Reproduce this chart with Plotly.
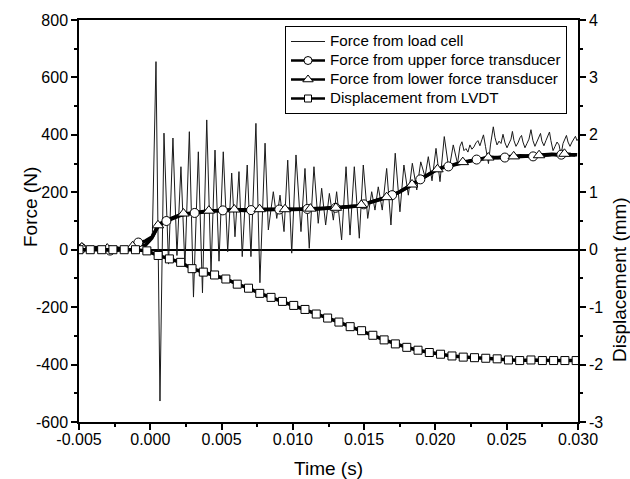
import plotly.graph_objects as go

# ---------------- data (time in ms, force in N, displacement in mm) ----------------
load_time_ms = [
    -5.00, -4.72, -4.44, -4.16, -3.88, -3.60, -3.32, -3.04, -2.76, -2.48,
    -2.20, -1.91, -1.63, -1.35, -1.07, -0.79, -0.51, -0.23, -0.02, 0.15,
    0.40, 0.68, 0.96, 1.28, 1.59, 1.87, 2.15, 2.43, 2.74, 3.03,
    3.37, 3.66, 3.96, 4.26, 4.54, 4.82, 5.12, 5.43, 5.71, 5.94,
    6.22, 6.45, 6.80, 7.06, 7.41, 7.69, 8.05, 8.28, 8.63, 8.87,
    9.10, 9.38, 9.64, 9.92, 10.22, 10.57, 10.85, 11.15, 11.48, 11.78,
    12.02, 12.30, 12.56, 12.84, 13.07, 13.42, 13.73, 14.01, 14.31, 14.66,
    14.94, 15.25, 15.53, 15.76, 15.99, 16.27, 16.58, 16.88, 17.18, 17.51,
    17.79, 18.10, 18.38, 18.69, 18.97, 19.27, 19.50, 19.76, 20.04, 20.32,
    20.62, 20.95, 21.25, 21.55,
    21.72, 21.86, 22.00, 22.14, 22.28, 22.42, 22.56, 22.70, 22.84, 22.98,
    23.12, 23.27, 23.37, 23.51, 23.62, 23.72, 23.86, 23.97, 24.06, 24.18,
    24.32, 24.46, 24.60, 24.74, 24.88, 25.02, 25.16, 25.30, 25.40, 25.51,
    25.65, 25.79, 25.93, 26.04, 26.14, 26.28, 26.42, 26.56, 26.70, 26.84,
    26.98, 27.12, 27.26, 27.37, 27.47, 27.61, 27.75, 27.89, 28.00, 28.10,
    28.25, 28.39, 28.53, 28.67, 28.81, 28.95, 29.09, 29.19, 29.30, 29.44,
    29.58, 29.72, 29.82, 29.93, 30.00,
]
load_force_N = [
    2, 8, -2, 5, 0, 8, -4, 3, -8, 2,
    -6, 4, -3, 6, 18, 30, 22, 35, 28, 60,
    655, -527, 406, -50, 389, -20, 289, -60, 411, -165,
    341, -150, 452, -80, 347, -40, 341, -7, 267, 45,
    272, -24, 295, -24, 440, -115, 371, 69, 202, 109,
    190, 63, 312, -12, 330, 63, 283, 5, 289, 92,
    214, 86, 196, 103, 202, 34, 289, 51, 289, 40,
    295, 109, 202, 138, 219, 138, 283, 86, 336, 132,
    295, 190, 301, 208, 306, 254, 324, 240, 353, 237,
    394, 278, 365, 300,
    360, 376, 345, 352, 340, 365, 350, 358, 372, 380,
    362, 385, 400, 360, 330, 300, 365, 395, 428, 390,
    365, 378, 370, 402, 372, 355, 368, 385, 412, 380,
    360, 372, 390, 398, 375, 355, 370, 385, 418, 380,
    360, 378, 392, 405, 378, 362, 380, 395, 410, 380,
    345, 360, 375, 365, 330, 370, 385, 398, 375, 360,
    375, 388, 395, 380, 385,
]

upper_time_ms = [
    -4.80, -4.31, -3.81, -3.32, -2.82, -2.33, -1.83, -1.34, -0.84, -0.35,
    0.15, 0.64, 1.13, 1.63, 2.12, 2.62, 3.11, 3.61, 4.10, 4.60,
    5.09, 5.58, 6.08, 6.57, 7.07, 7.56, 8.06, 8.55, 9.05, 9.54,
    10.04, 10.53, 11.02, 11.52, 12.01, 12.51, 13.00, 13.50, 13.99, 14.49,
    14.98, 15.47, 15.97, 16.46, 16.96, 17.45, 17.95, 18.44, 18.94, 19.43,
    19.93, 20.42, 20.91, 21.41, 21.90, 22.40, 22.89, 23.39, 23.88, 24.38,
    24.87, 25.36, 25.86, 26.35, 26.85, 27.34, 27.84, 28.33, 28.83, 29.32,
    29.82,
]
upper_force_N = [
    5, 3, 8, 2, -3, 6, 0, 8, 25, 30,
    45, 90, 100, 112, 120, 125, 128, 131, 134, 136,
    137, 138, 138, 137, 138, 139, 140, 139, 140, 141,
    140, 142, 142, 141, 143, 145, 146, 148, 150, 152,
    158, 165, 172, 180, 190, 200, 215, 230, 245, 260,
    275, 285, 290, 298, 305, 310, 314, 318, 322, 320,
    321, 324, 326, 327, 325, 328, 330, 332, 331, 333,
    330,
]

lower_time_ms = [
    -4.80, -4.35, -3.91, -3.46, -3.02, -2.57, -2.13, -1.68, -1.24, -0.79,
    -0.35, 0.10, 0.54, 0.99, 1.44, 1.88, 2.33, 2.77, 3.22, 3.66,
    4.11, 4.55, 5.00, 5.44, 5.89, 6.34, 6.78, 7.23, 7.67, 8.12,
    8.56, 9.01, 9.45, 9.90, 10.34, 10.79, 11.23, 11.68, 12.13, 12.57,
    13.02, 13.46, 13.91, 14.35, 14.80, 15.24, 15.69, 16.13, 16.58, 17.02,
    17.47, 17.92, 18.36, 18.81, 19.25, 19.70, 20.14, 20.59, 21.03, 21.48,
    21.92, 22.37, 22.81, 23.26, 23.71, 24.15, 24.60, 25.04, 25.49, 25.93,
    26.38, 26.82, 27.27, 27.71, 28.16, 28.61, 29.05, 29.50, 29.94,
]
lower_force_N = [
    8, 2, 6, 0, 4, -6, 2, -4, 12, 20,
    15, 40, 85, 98, 108, 117, 126, 126, 130, 133,
    136, 136, 138, 137, 140, 139, 138, 139, 141, 140,
    139, 141, 141, 140, 142, 141, 143, 142, 144, 146,
    146, 148, 150, 151, 156, 162, 168, 174, 183, 192,
    201, 214, 227, 241, 254, 268, 280, 287, 292, 299,
    305, 309, 313, 317, 321, 320, 322, 323, 325, 327,
    326, 328, 329, 331, 332, 330, 334, 332, 331,
]

lvdt_time_ms = [
    -5.00, -4.21, -3.41, -2.62, -1.83, -1.04, -0.24, 0.55, 1.34, 2.13,
    2.93, 3.72, 4.51, 5.30, 6.10, 6.89, 7.68, 8.47, 9.27, 10.06,
    10.85, 11.64, 12.44, 13.23, 14.02, 14.82, 15.61, 16.40, 17.19, 17.99,
    18.78, 19.57, 20.36, 21.16, 21.95, 22.74, 23.53, 24.33, 25.12, 25.91,
    26.70, 27.50, 28.29, 29.08, 29.87,
]
lvdt_disp_mm = [
    0.00, 0.00, 0.00, 0.00, 0.00, 0.00, -0.02, -0.10, -0.16, -0.22,
    -0.33, -0.39, -0.44, -0.51, -0.60, -0.67, -0.76, -0.83, -0.90, -0.97,
    -1.04, -1.12, -1.19, -1.26, -1.34, -1.41, -1.49, -1.57, -1.64, -1.70,
    -1.75, -1.79, -1.82, -1.85, -1.87, -1.88, -1.89, -1.90, -1.92, -1.93,
    -1.92, -1.93, -1.93, -1.93, -1.93,
]

series_names = [
    "Force from load cell",
    "Force from upper force transducer",
    "Force from lower force transducer",
    "Displacement from LVDT",
]

x_tick_vals = [-0.005, 0.000, 0.005, 0.010, 0.015, 0.020, 0.025, 0.030]
x_tick_text = ["-0.005", "0.000", "0.005", "0.010", "0.015", "0.020", "0.025", "0.030"]
y_tick_vals = [-600, -400, -200, 0, 200, 400, 600, 800]
y_tick_text = ["-600", "-400", "-200", "0", "200", "400", "600", "800"]
y2_tick_vals = [-3, -2, -1, 0, 1, 2, 3, 4]
y2_tick_text = ["-3", "-2", "-1", "0", "1", "2", "3", "4"]

MARK_EVERY = 4  # transducer symbols are drawn on every 4th sample


def sec(ms_list):
    return [v / 1000.0 for v in ms_list]


def legend_label(name):
    # legend rows are spaced by the (smaller) legend font; the label itself is larger
    return '<span style="font-size:15.2px">' + name + "</span>"


FONT = "Arial, Liberation Sans, Helvetica, sans-serif"
BLACK = "black"
THIN = "#1a1a1a"
thick = 3.5

fig = go.Figure()

# lines
fig.add_trace(go.Scatter(x=sec(load_time_ms), y=load_force_N, mode="lines",
                         line=dict(color=THIN, width=1), showlegend=False,
                         hoverinfo="skip"))
fig.add_trace(go.Scatter(x=sec(upper_time_ms), y=upper_force_N, mode="lines",
                         line=dict(color=BLACK, width=thick), showlegend=False))
fig.add_trace(go.Scatter(x=sec(lower_time_ms), y=lower_force_N, mode="lines",
                         line=dict(color=BLACK, width=thick), showlegend=False))

# markers on the transducer curves
fig.add_trace(go.Scatter(x=sec(upper_time_ms)[::MARK_EVERY], y=upper_force_N[::MARK_EVERY],
                         mode="markers", showlegend=False,
                         marker=dict(symbol="circle", size=9, color="white",
                                     line=dict(color=BLACK, width=1))))
fig.add_trace(go.Scatter(x=sec(lower_time_ms)[::MARK_EVERY], y=lower_force_N[::MARK_EVERY],
                         mode="markers", showlegend=False,
                         marker=dict(symbol="triangle-up", size=10, color="white",
                                     line=dict(color=BLACK, width=1))))

# LVDT on right axis
fig.add_trace(go.Scatter(x=sec(lvdt_time_ms), y=lvdt_disp_mm, mode="lines+markers",
                         yaxis="y2", showlegend=False,
                         line=dict(color=BLACK, width=thick),
                         marker=dict(symbol="square", size=8, color="white",
                                     line=dict(color=BLACK, width=1))))

# legend entries
fig.add_trace(go.Scatter(x=[None], y=[None], mode="lines", name=legend_label(series_names[0]),
                         line=dict(color=THIN, width=1)))
fig.add_trace(go.Scatter(x=[None], y=[None], mode="lines+markers",
                         name=legend_label(series_names[1]),
                         line=dict(color=BLACK, width=2.5),
                         marker=dict(symbol="circle", size=8, color="white",
                                     line=dict(color=BLACK, width=1))))
fig.add_trace(go.Scatter(x=[None], y=[None], mode="lines+markers",
                         name=legend_label(series_names[2]),
                         line=dict(color=BLACK, width=2.5),
                         marker=dict(symbol="triangle-up", size=9, color="white",
                                     line=dict(color=BLACK, width=1))))
fig.add_trace(go.Scatter(x=[None], y=[None], mode="lines+markers",
                         name=legend_label(series_names[3]),
                         line=dict(color=BLACK, width=2.5),
                         marker=dict(symbol="square", size=7, color="white",
                                     line=dict(color=BLACK, width=1))))

axis_common = dict(showgrid=False, showline=True, linecolor=BLACK, linewidth=1.5,
                   ticks="outside", ticklen=6, tickwidth=1.5, tickcolor=BLACK,
                   automargin=False,
                   tickfont=dict(size=16, family=FONT, color=BLACK))

fig.update_layout(
    width=630, height=479,
    margin=dict(l=79, r=52, t=20, b=57),
    paper_bgcolor="white", plot_bgcolor="white",
    font=dict(family=FONT, color=BLACK, size=15),
    xaxis=dict(range=[-0.005, 0.030], tickmode="array", tickvals=x_tick_vals,
               ticktext=x_tick_text, mirror=True, zeroline=False,
               ticklabelstandoff=-4,
               minor=dict(tickmode="linear", tick0=-0.005, dtick=0.0025, ticks="outside",
                          ticklen=3, tickwidth=1.5, tickcolor=BLACK, showgrid=False),
               title=dict(text="Time (s)", font=dict(size=19, family=FONT), standoff=18),
               **axis_common),
    yaxis=dict(range=[-600, 800], tickmode="array", tickvals=y_tick_vals,
               ticktext=y_tick_text, zeroline=True, zerolinecolor=BLACK, zerolinewidth=2,
               minor=dict(tickmode="linear", tick0=-600, dtick=100, ticks="outside",
                          ticklen=3, tickwidth=1.5, tickcolor=BLACK, showgrid=False),
               **axis_common),
    yaxis2=dict(range=[-3, 4], tickmode="array", tickvals=y2_tick_vals,
                ticktext=y2_tick_text, overlaying="y", side="right", zeroline=False,
                minor=dict(tickmode="linear", tick0=-3, dtick=0.5, ticks="outside",
                           ticklen=3, tickwidth=1.5, tickcolor=BLACK, showgrid=False),
                **axis_common),
    legend=dict(x=(285 - 79) / 499.0, y=1 - (26 - 20) / 402.0, xanchor="left", yanchor="top",
                bgcolor="white", bordercolor=BLACK, borderwidth=1,
                font=dict(size=12.3, family=FONT, color=BLACK),
                tracegroupgap=0, itemwidth=34),
    annotations=[
        dict(text="Force (N)", x=(30 - 79) / 499.0, y=1 - (207 - 20) / 402.0,
             xref="paper", yref="paper",
             showarrow=False, textangle=-90, font=dict(size=19, family=FONT),
             xanchor="center", yanchor="middle"),
        dict(text="Displacement (mm)", x=(619 - 79) / 499.0, y=1 - (280 - 20) / 402.0,
             xref="paper", yref="paper",
             showarrow=False, textangle=-90, font=dict(size=19, family=FONT),
             xanchor="center", yanchor="middle"),
    ],
)

fig.write_html("out.html", config={"displayModeBar": False},
               post_script="document.body.style.margin='0';document.body.style.padding='0';")
